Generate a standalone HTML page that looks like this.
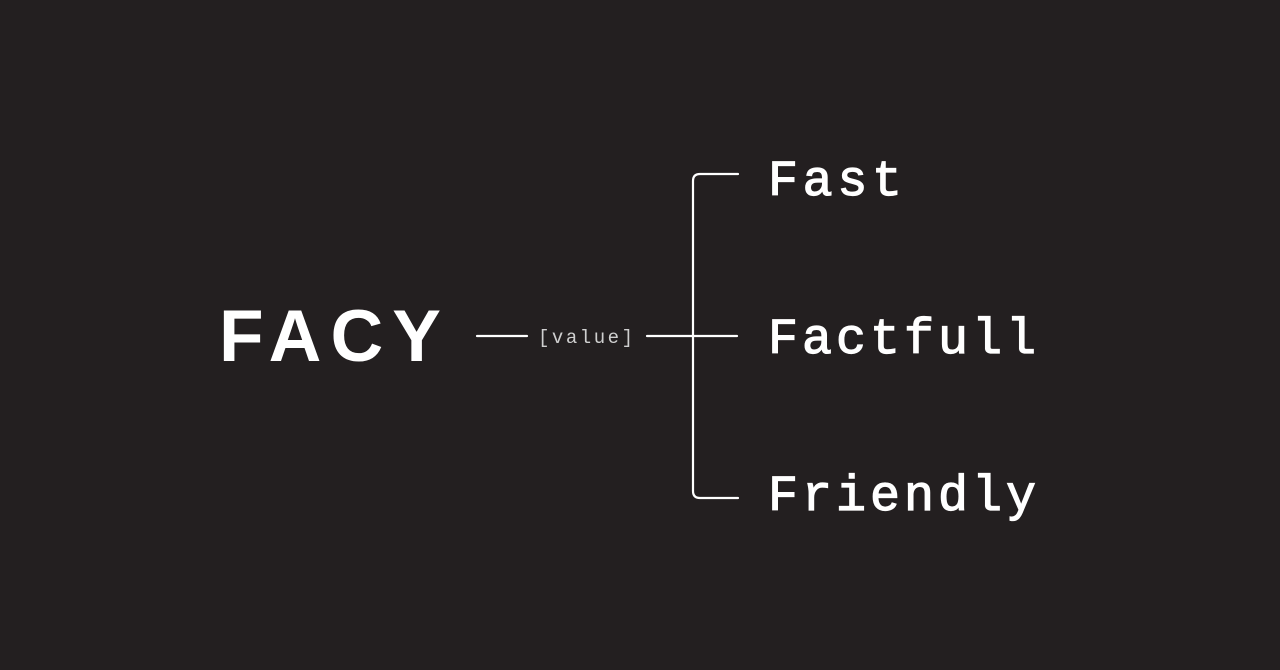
<!DOCTYPE html>
<html><head><style>
html,body{margin:0;padding:0;background:#231f20;}
svg{display:block}
</style></head><body>
<svg width="1280" height="670" viewBox="0 0 1280 670" xmlns="http://www.w3.org/2000/svg">
<rect width="1280" height="670" fill="#231f20"/>
<text x="219" y="361" font-family="Liberation Sans, sans-serif" font-weight="bold" font-size="73" fill="#fff" textLength="222" lengthAdjust="spacing">FACY</text>
<g stroke="#fff" stroke-width="2.2" fill="none" stroke-linecap="round">
<line x1="477" y1="336" x2="527" y2="336"/>
<line x1="647" y1="336" x2="737" y2="336"/>
<path d="M738 174 H700 Q693 174 693 181 V491 Q693 498 700 498 H738"/>
</g>
<text x="538" y="343" font-family="Liberation Mono, monospace" font-size="19" fill="#cfcfcf" textLength="95" lengthAdjust="spacing">[value]</text>
<g font-family="Liberation Mono, monospace" font-size="50" fill="#fff" stroke="#fff" stroke-width="1.2">
<text x="768" y="199" textLength="134" lengthAdjust="spacing" dy="-4">Fast</text>
<text x="768" y="357" textLength="268" lengthAdjust="spacing" dy="-4">Factfull</text>
<text x="768" y="514" textLength="268" lengthAdjust="spacing" dy="-4">Friendly</text>
</g>
</svg>
</body></html>
